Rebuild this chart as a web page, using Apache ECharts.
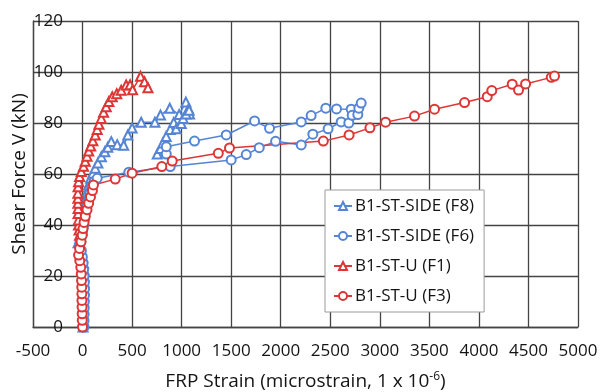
<!DOCTYPE html>
<html>
<head>
<meta charset="utf-8">
<script src="https://cdn.jsdelivr.net/npm/echarts@6/dist/echarts.min.js"></script>
<style>
  html, body { margin: 0; padding: 0; background: #fff; }
  #chart { width: 600px; height: 392px; }
</style>
</head>
<body>
<div id="chart"></div>
<script>
// Axis ticks
const xTicks = { min: -500, max: 5000, step: 500 };
const yTicks = { min: 0, max: 120, step: 20 };

// Series names
const names = ['B1-ST-SIDE (F8)', 'B1-ST-SIDE (F6)', 'B1-ST-U (F1)', 'B1-ST-U (F3)'];

// [strain (microstrain), shear force (kN)]
const f8Rise = [[5,0],[6,2.5],[6,5],[7,7.5],[8,10],[10,12.5],[12,15],[14,17.5],[15,20],[14,22.5],[10,25],[2,27.5],[-15,30],[-45,33],[-20,35.5],[-5,38],[3,40.5],[8,43],[13,45.2],[25,47.8],[37,50.5],[47,53],[60,55.7],[81,58.3],[104,60.3],[128,62.3],[155,64.3],[190,66.8],[225,68.7],[255,70.5],[290,72.7],[350,71.5],[415,71.3],[457,75.3],[500,78],[592,80.3],[730,80.3],[787,83.1],[880,85.8],[975,83.3],[1043,88.2],[1070,85.5],[1080,83.5]];
const f8Branch = [[754,67.8],[787,70],[811,72.2],[844,74.7],[885,77.5],[920,80.2],[945,77.7],[996,79.8],[1015,81.8],[1045,83.5],[1075,85]];

const f6Rise = [[15,0],[15,2.5],[16,5],[17,7.5],[18,10],[20,12.5],[20,15],[18,17.5],[15,20],[10,22.5],[5,25],[-2,27.5],[-12,30],[-30,32.5],[-15,35],[0,37.5],[12,40],[22,42.5],[32,45],[45,47.5],[62,50],[75,52.5],[90,55],[115,57],[148,58.3],[467,60.7],[885,62.9],[1500,65.5],[1652,67.6],[1783,70.3],[1948,72.8],[2207,71.4],[2324,75.6],[2478,77.7],[2610,80.4],[2687,80]];
const f6Branch = [[845,67.8],[845,70.7],[1130,72.9],[1450,75.3],[1736,80.8],[1887,77.9],[2207,80.4],[2307,82.9],[2455,85.8],[2563,85.5],[2711,85.4],[2721,83],[2778,83.3],[2788,85.8],[2812,87.8]];

const f1 = [[-30,36],[-35,38],[-40,40],[-42,42],[-45,44.5],[-45,46.5],[-47,48.5],[-47,50.5],[-47,52.5],[-45,55],[-40,57],[-30,59],[-13,61],[10,63],[27,65],[45,67],[62,69],[82,71],[104,73],[128,75.3],[148,77.5],[165,79.5],[189,81.8],[212,84.2],[239,86.4],[266,88.4],[300,90.3],[345,91.5],[390,92.8],[440,94.9],[480,95],[505,93],[585,98.3],[625,96.2],[660,93.8]];

const f3 = [[0,0],[-3,2.6],[-4,5.2],[-5,7.8],[-6,10.4],[-7,13],[-8,15.6],[-10,18.2],[-13,20.8],[-18,23.4],[-28,26],[-40,28.2],[-30,30.8],[-15,33.4],[-3,36],[5,38.6],[15,41],[28,43.4],[45,46],[62,48.5],[80,51],[100,53.5],[110,55.7],[330,58],[500,60.3],[800,62.9],[905,65.1],[1370,68.1],[1483,70.2],[2430,72.9],[2690,75.3],[2900,78.1],[3058,80.3],[3350,82.7],[3552,85.4],[3855,88],[4084,90.3],[4130,92.7],[4336,95.2],[4400,92.9],[4471,95.3],[4730,97.9],[4763,98.4]];

const BLUE = '#5585d4';
const RED = '#de3535';
const INK = '#141414';
const FONT = '"Open Sans", "Noto Sans", sans-serif';

function makeSeries(name, data, color, symbol, size) {
  return {
    name: name,
    type: 'line',
    data: data,
    symbol: symbol,
    symbolSize: size,
    showAllSymbol: true,
    lineStyle: { color: color, width: 1.5 },
    itemStyle: { color: color, borderColor: color, borderWidth: 1.2 },
    emphasis: { disabled: true },
    animation: false
  };
}

const chart = echarts.init(document.getElementById('chart'), null, { renderer: 'canvas' });

chart.setOption({
  backgroundColor: '#fff',
  animation: false,
  textStyle: { fontFamily: FONT },
  grid: {
    left: 33, right: 22, top: 21, bottom: 65,
    containLabel: false,
    outerBoundsMode: 'none'
  },
  legend: {
    data: names,
    orient: 'vertical',
    left: 325, top: 190,
    padding: [6, 10, 6, 8],
    itemGap: 10,
    itemWidth: 18,
    itemHeight: 10,
    backgroundColor: '#fff',
    borderColor: '#9a9a9a',
    borderWidth: 1,
    textStyle: { fontFamily: FONT, fontSize: 17, color: INK, lineHeight: 20, padding: [0, 0, 0, -2] }
  },
  xAxis: {
    type: 'value',
    min: xTicks.min, max: xTicks.max, interval: xTicks.step,
    name: '{b|FRP Strain (microstrain, 1 x 10}{s|-6}{b|)}',
    nameLocation: 'middle',
    nameGap: 44,
    nameMoveOverlap: false,
    nameTextStyle: {
      rich: {
        b: { fontFamily: FONT, fontSize: 19, color: INK },
        s: { fontFamily: FONT, fontSize: 12, color: INK, verticalAlign: 'bottom', padding: [0, 0, 9, 0] }
      }
    },
    axisLine: { show: true, onZero: false, lineStyle: { color: '#444', width: 1.3 } },
    axisTick: { show: false },
    axisLabel: {
      margin: 16, fontFamily: FONT, fontSize: 17, color: INK,
      formatter: function (v) { return String(v); }
    },
    splitLine: { show: true, lineStyle: { color: '#444', width: 1.3 } }
  },
  yAxis: {
    type: 'value',
    min: yTicks.min, max: yTicks.max, interval: yTicks.step,
    name: 'Shear Force V (kN)',
    nameLocation: 'middle',
    nameGap: 4,
    nameRotate: 90,
    nameMoveOverlap: false,
    nameTextStyle: { fontFamily: FONT, fontSize: 19, color: INK },
    axisLine: { show: true, onZero: false, lineStyle: { color: '#444', width: 1.3 } },
    axisTick: { show: false },
    axisLabel: {
      margin: -30, fontFamily: FONT, fontSize: 17, color: INK,
      formatter: function (v) { return String(v); }
    },
    splitLine: { show: true, lineStyle: { color: '#444', width: 1.3 } }
  },
  series: [
    makeSeries(names[0], f8Rise, BLUE, 'emptyTriangle', 9),
    makeSeries(names[0], f8Branch, BLUE, 'emptyTriangle', 9),
    makeSeries(names[1], f6Rise, BLUE, 'emptyCircle', 9),
    makeSeries(names[1], f6Branch, BLUE, 'emptyCircle', 9),
    makeSeries(names[2], f1, RED, 'emptyTriangle', 9),
    makeSeries(names[3], f3, RED, 'emptyCircle', 9)
  ]
});
</script>
</body>
</html>
